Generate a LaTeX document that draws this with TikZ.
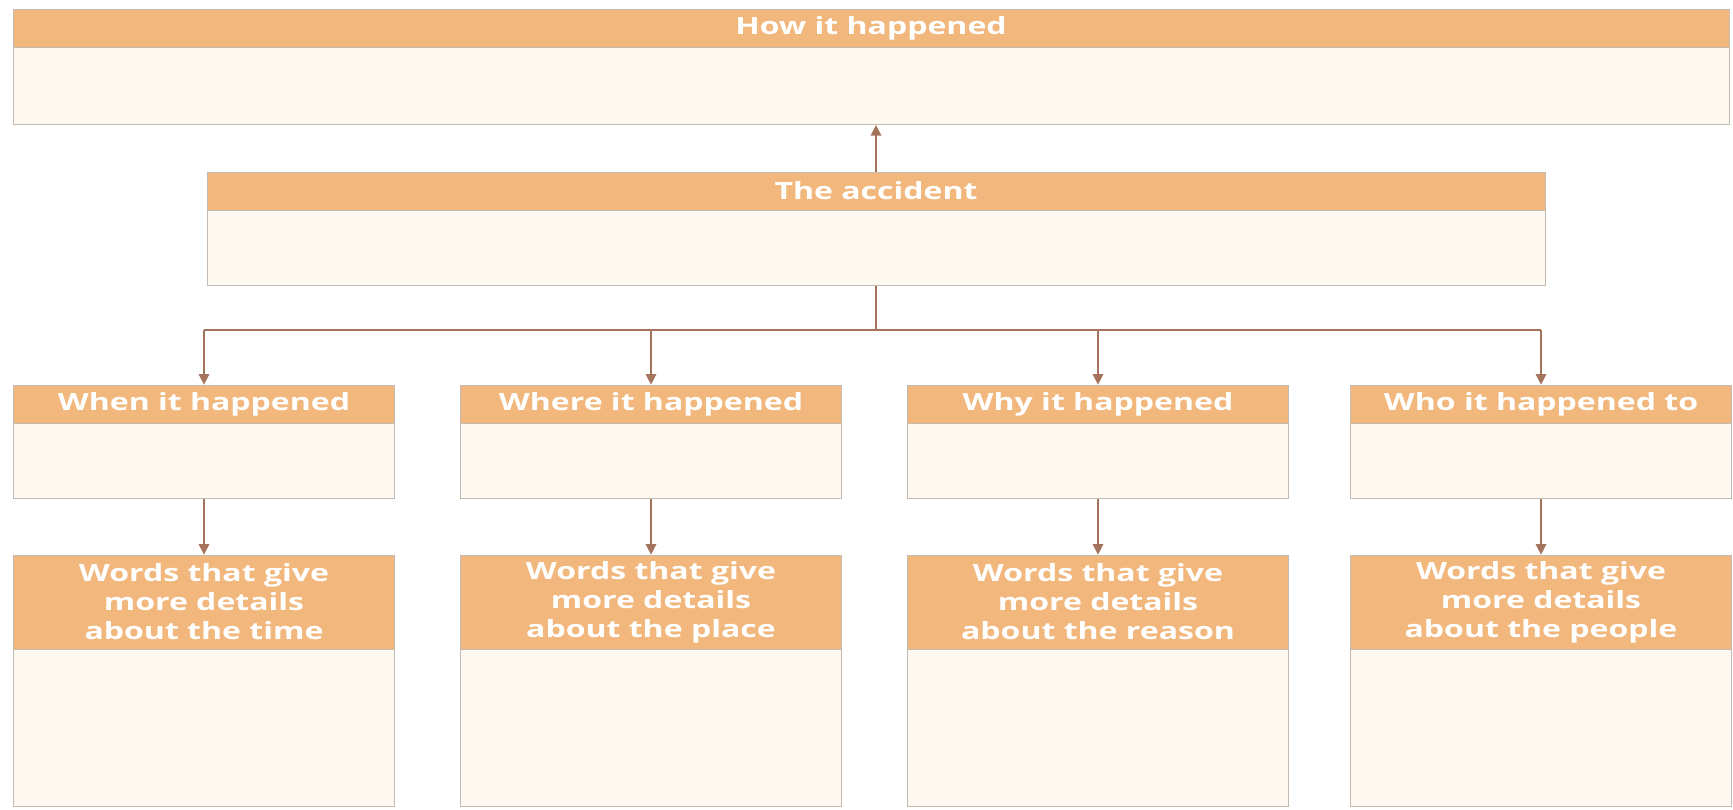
\documentclass[tikz,border=0pt]{standalone}
\usepackage{fontspec}
\setmainfont{Open Sans}
\newfontfamily\widefont[FakeStretch=1.35]{Open Sans}
\usetikzlibrary{positioning, arrows.meta}

\definecolor{headorange}{RGB}{241,183,124}
\definecolor{bodycream}{RGB}{253,249,241}
\definecolor{edgegray}{RGB}{196,186,176}
\definecolor{arrowbrown}{RGB}{165,115,92}

\begin{document}
\begin{tikzpicture}[
    x=0.02cm, y=-0.02cm,
    head/.style={rectangle, draw=edgegray, fill=headorange, text=white, align=center, inner sep=0pt, minimum height=0.76cm, font=\widefont\bfseries\fontsize{13.5}{16.5}\selectfont},
    body/.style={rectangle, draw=edgegray, fill=bodycream, inner sep=0pt, below=0pt of #1},
    link/.style={draw=arrowbrown, line width=0.7pt, -{Triangle[length=6pt, width=6pt]}}
]
\useasboundingbox (0,0) rectangle (1733,809);

% top box
\node (howhead) [head, minimum width=34.32cm] at (871,28) {How it happened};
\node (howbody) [body=howhead, minimum width=34.32cm, minimum height=1.54cm] {};

% the accident
\node (acchead) [head, minimum width=26.76cm] at (876,191) {The accident};
\node (accbody) [body=acchead, minimum width=26.76cm, minimum height=1.5cm] {};
\draw[link] (acchead.north) -- (howbody.south -| acchead.north);

% branch line
\draw[draw=arrowbrown, line width=0.7pt] (accbody.south) -- ++(0,44) coordinate (split);

\foreach \name/\cx/\title/\what in {when/204/When it happened/time, where/651/Where it happened/place, why/1098/Why it happened/reason, who/1541/Who it happened to/people} {
  \node (\name head) [head, minimum width=7.62cm] at (\cx,404) {\title};
  \node (\name body) [body=\name head, minimum width=7.62cm, minimum height=1.5cm] {};
  \node (\name det) [head, minimum width=7.62cm, minimum height=1.88cm] at (\cx,602) {Words that give\\more details\\about the \what};
  \node (\name detbody) [body=\name det, minimum width=7.62cm, minimum height=3.14cm] {};
  \draw[link] (\name head.north |- split) -- (\name head.north);
  \draw[link] (\name body) -- (\name det);
}
\draw[draw=arrowbrown, line width=0.7pt] (whenhead.north |- split) -- (whohead.north |- split);

\end{tikzpicture}
\end{document}
